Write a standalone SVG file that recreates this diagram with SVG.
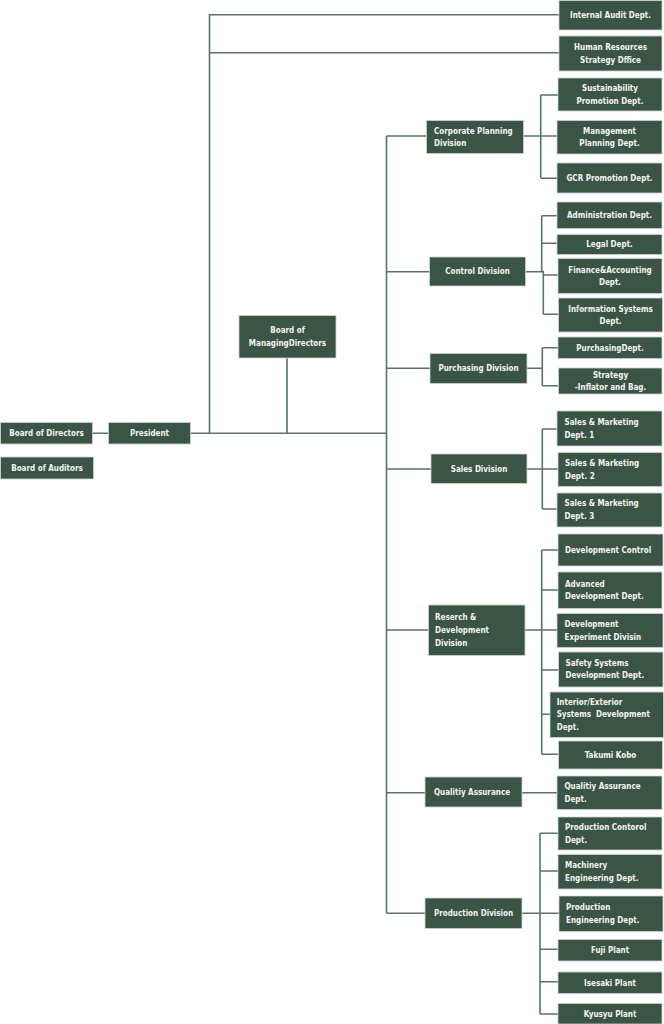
<svg xmlns="http://www.w3.org/2000/svg" width="664" height="1024" viewBox="0 0 664 1024">
<style>
.n rect{fill:#3a5446;stroke:#cdd4d0;stroke-width:0.8}
.n text{fill:#f4f4f2;font-family:"DejaVu Sans Condensed","DejaVu Sans",sans-serif;font-weight:bold;font-size:8px;white-space:pre}
.c{text-anchor:middle}
#connectors path{fill:none;stroke:#5a7264;stroke-width:1.6}
</style>
<rect width="664" height="1024" fill="#ffffff"/>
<g id="connectors">
<path d="M92.5,433.3H108.5M190.5,433.3H387M209.5,433.3V14.7H559M209.5,52.7H559M287,358V433.3"/>
<path d="M386.5,136V913.3"/>
<path d="M386.5,136H426.5M523.5,136H557M540.7,95V178.3M540.7,95H558M540.7,178.3H557"/>
<path d="M386.5,271.7H429.5M525.5,271.7H543.3M541.7,215.7V271.7M543.3,270.7V314.3M541.7,215.7H557M541.7,243.3H557M543.3,275H558M543.3,314.3H558.5"/>
<path d="M386.5,368.3H430M527,368.3H542.3M542.3,347.7V385.7M542.3,347.7H558M542.3,385.7H558.5"/>
<path d="M386.5,469H431M527,469H558M542.3,429V509M542.3,429H557M542.3,509H557"/>
<path d="M386.5,630H428.5M525,630H557M541.7,550V754.3M541.7,550H558M541.7,590H558M541.7,670H558.5M541.7,714.3H550M541.7,754.3H558.5"/>
<path d="M386.5,792.7H425M522,792.7H557"/>
<path d="M386.5,913.3H425M522,913.3H559M540,833.3V1014M540,833.3H558M540,871H558M540,949.3H558M540,981.7H558M540,1014H558"/>
</g>
<g id="internal-audit" class="n"><rect x="559" y="0.5" width="103" height="29.5"/><text class="c" x="610.5" y="18">Internal Audit Dept.</text></g>
<g id="hr-strategy" class="n"><rect x="559" y="36" width="103" height="35"/><text class="c" x="610.5" y="50">Human Resources</text><text class="c" x="610.5" y="62.6">Strategy Dffice</text></g>
<g id="sustainability" class="n"><rect x="558" y="78" width="104" height="33"/><text class="c" x="610" y="91.1">Sustainability</text><text class="c" x="610" y="103.7">Promotion Dept.</text></g>
<g id="management-planning" class="n"><rect x="557" y="120.5" width="105" height="33.5"/><text class="c" x="609.5" y="133.6">Management</text><text class="c" x="609.5" y="146.2">Planning Dept.</text></g>
<g id="gcr" class="n"><rect x="557" y="163" width="105" height="30"/><text class="c" x="609.5" y="181">GCR Promotion Dept.</text></g>
<g id="corporate-planning" class="n"><rect x="426.5" y="120.5" width="97" height="33"/><text x="434" y="133.6">Corporate Planning</text><text x="434" y="146.2">Division</text></g>
<g id="administration" class="n"><rect x="557" y="202" width="105" height="26.5"/><text class="c" x="609.5" y="218">Administration Dept.</text></g>
<g id="legal" class="n"><rect x="557" y="234.5" width="105" height="20"/><text class="c" x="609.5" y="247.4">Legal Dept.</text></g>
<g id="finance" class="n"><rect x="558" y="258.5" width="104" height="35"/><text class="c" x="610" y="272.6">Finance&amp;Accounting</text><text class="c" x="610" y="285.2">Dept.</text></g>
<g id="information-systems" class="n"><rect x="558.5" y="298" width="104" height="34"/><text class="c" x="610.5" y="311.6">Information Systems</text><text class="c" x="610.5" y="324.2">Dept.</text></g>
<g id="control" class="n"><rect x="429.5" y="257" width="96" height="29"/><text class="c" x="477.5" y="274.4">Control Division</text></g>
<g id="purchasing-dept" class="n"><rect x="558" y="337" width="104" height="21.5"/><text class="c" x="610" y="350.6">PurchasingDept.</text></g>
<g id="strategy" class="n"><rect x="558.5" y="368" width="103.5" height="26"/><text class="c" x="610.5" y="377.6">Strategy</text><text class="c" x="610.5" y="390.2">-Inflator and Bag.</text></g>
<g id="purchasing" class="n"><rect x="430" y="353.5" width="97" height="30"/><text class="c" x="478.5" y="371.4">Purchasing Division</text></g>
<g id="sales-marketing-1" class="n"><rect x="557" y="411" width="105" height="35"/><text x="564.5" y="425">Sales &amp; Marketing</text><text x="564.5" y="437.6">Dept. 1</text></g>
<g id="sales-marketing-2" class="n"><rect x="558" y="452.5" width="104" height="34"/><text x="565" y="466.2">Sales &amp; Marketing</text><text x="565" y="478.8">Dept. 2</text></g>
<g id="sales-marketing-3" class="n"><rect x="557" y="493" width="105" height="34"/><text x="564.5" y="506.4">Sales &amp; Marketing</text><text x="564.5" y="519">Dept. 3</text></g>
<g id="sales" class="n"><rect x="431" y="454" width="96" height="29.5"/><text class="c" x="479" y="471.6">Sales Division</text></g>
<g id="development-control" class="n"><rect x="558" y="534" width="105" height="32"/><text x="565" y="552.9">Development Control</text></g>
<g id="advanced-development" class="n"><rect x="558" y="572" width="104" height="36.5"/><text x="565" y="586.7">Advanced</text><text x="565" y="599.3">Development Dept.</text></g>
<g id="development-experiment" class="n"><rect x="557" y="613.5" width="106" height="34"/><text x="564.5" y="627.1">Development</text><text x="564.5" y="639.7">Experiment Divisin</text></g>
<g id="safety-systems" class="n"><rect x="558.5" y="652" width="104.5" height="35"/><text x="565.5" y="665.7">Safety Systems</text><text x="565.5" y="678.3">Development Dept.</text></g>
<g id="interior-exterior" class="n"><rect x="550" y="692" width="113.5" height="45.5"/><text x="556.7" y="704.6">Interior/Exterior</text><text x="556.7" y="717.4">Systems  Development</text><text x="556.7" y="730.2">Dept.</text></g>
<g id="takumi-kobo" class="n"><rect x="558.5" y="741" width="104" height="28"/><text class="c" x="610.5" y="757.9">Takumi Kobo</text></g>
<g id="research-development" class="n"><rect x="428.5" y="605" width="96.5" height="50.5"/><text x="435" y="620">Reserch &amp;</text><text x="435" y="632.8">Development</text><text x="435" y="645.6">Division</text></g>
<g id="quality-assurance" class="n"><rect x="425" y="777" width="97" height="30"/><text class="c" x="472" y="794.9">Qualitiy Assurance</text></g>
<g id="quality-assurance-dept" class="n"><rect x="557" y="776" width="105" height="33.5"/><text x="564.5" y="789">Qualitiy Assurance</text><text x="564.5" y="801.6">Dept.</text></g>
<g id="production-control" class="n"><rect x="558" y="817" width="104" height="33"/><text x="565" y="830">Production Contorol</text><text x="565" y="842.6">Dept.</text></g>
<g id="machinery-engineering" class="n"><rect x="558" y="854.5" width="104" height="34.5"/><text x="565" y="868.3">Machinery</text><text x="565" y="880.9">Engineering Dept.</text></g>
<g id="production-engineering" class="n"><rect x="559" y="896" width="104" height="35.5"/><text x="566" y="910.2">Production</text><text x="566" y="922.8">Engineering Dept.</text></g>
<g id="fuji-plant" class="n"><rect x="558" y="939.5" width="104" height="21.5"/><text class="c" x="610" y="953.1">Fuji Plant</text></g>
<g id="isesaki-plant" class="n"><rect x="558" y="972" width="104" height="21.5"/><text class="c" x="610" y="985.6">Isesaki Plant</text></g>
<g id="kyusyu-plant" class="n"><rect x="558" y="1003.5" width="104" height="20.5"/><text class="c" x="610" y="1016.6">Kyusyu Plant</text></g>
<g id="production" class="n"><rect x="425" y="898" width="97" height="30.5"/><text class="c" x="473.5" y="916.1">Production Division</text></g>
<g id="board-of-directors" class="n"><rect x="0.5" y="422.5" width="92" height="21.5"/><text class="c" x="46.5" y="436.2">Board of Directors</text></g>
<g id="president" class="n"><rect x="108.5" y="422.5" width="82" height="21.5"/><text class="c" x="149.5" y="436.2">President</text></g>
<g id="board-of-auditors" class="n"><rect x="0.5" y="457" width="93" height="22"/><text class="c" x="47" y="470.9">Board of Auditors</text></g>
<g id="board-of-managing-directors" class="n"><rect x="239" y="315.5" width="97" height="42.5"/><text class="c" x="287.5" y="333.2">Board of</text><text class="c" x="287.5" y="345.8">ManagingDirectors</text></g>
</svg>
